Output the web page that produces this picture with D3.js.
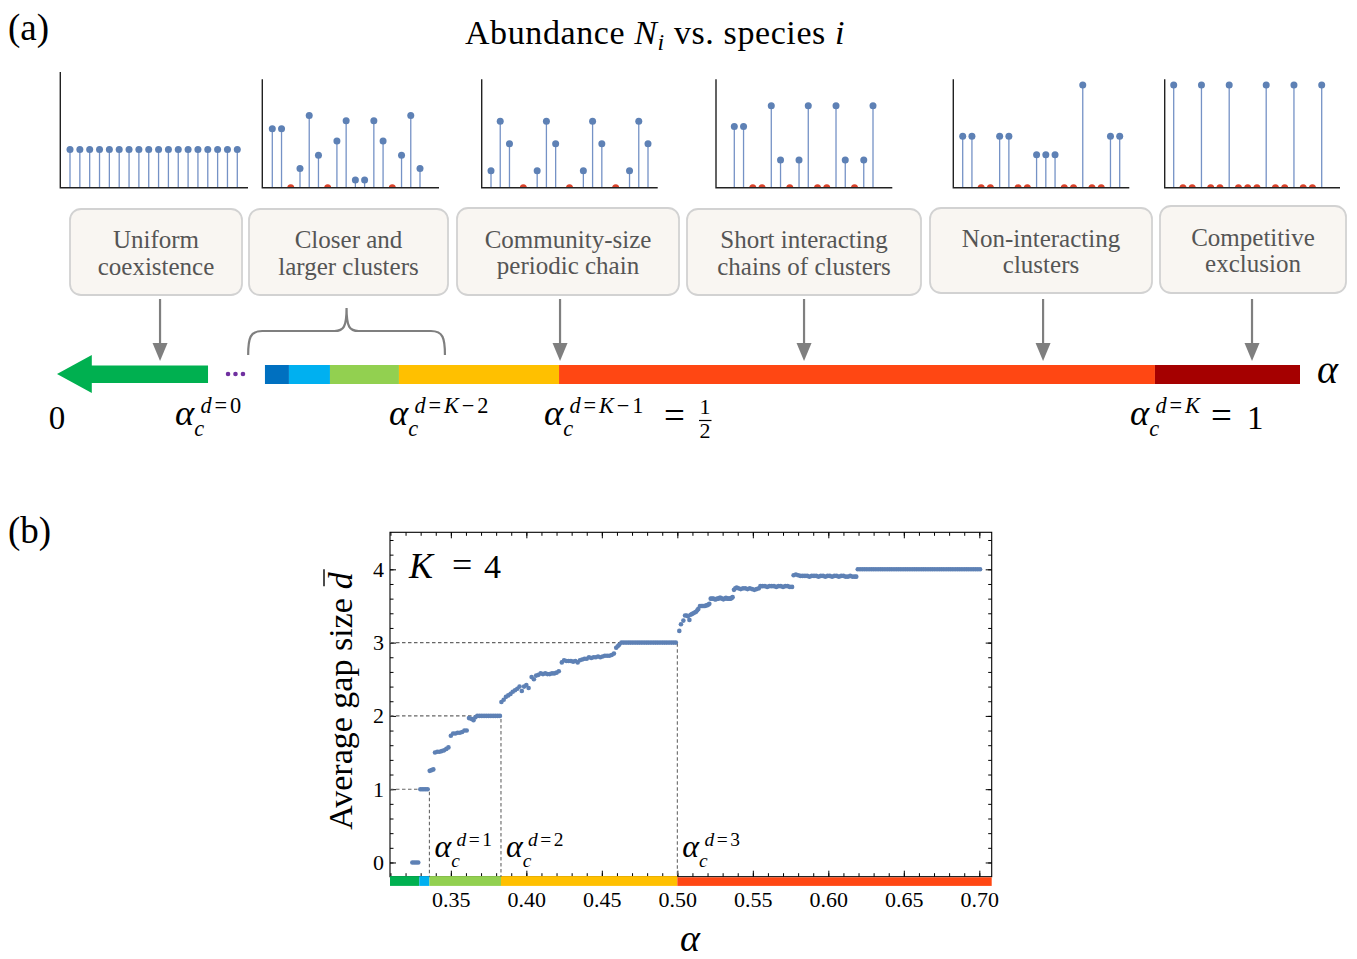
<!DOCTYPE html>
<html>
<head>
<meta charset="utf-8">
<script src="https://cdn.jsdelivr.net/npm/d3@7"></script>
<style>
  body { margin: 0; background: #fff; }
  svg { display: block; }
  text { font-family: "Liberation Serif", "Times New Roman", serif; fill: #000; }
</style>
</head>
<body>
<svg id="fig" width="1357" height="959"></svg>
<script>
// ---------------- data ----------------
// Panel (a): abundance snapshots for six regimes (species position, abundance)
const snapshotSpecies = [
  [0,1,2,3,4,5,6,7,8,9,10,11,12,13,14,15,16,17],
  [0,1,2,3,4,5,6,7,8,9,10,11,12,13,14,15,16],
  [0,1,2,3.5,5,6,7,8.5,10,11,12,13.5,15,16,17],
  [0,1,2,3,4,5,6,7,8,9,10,11,12,13,14,15],
  [0,1,2,3,4,5,6,7,8,9,10,11,12,13,14,15,16,17],
  [0,1,2,3,4,5,6,7,8,9,10,11,12,13,14,15,16]
];
const snapshotAbundance = [
  [0.373,0.373,0.373,0.373,0.373,0.373,0.373,0.373,0.373,0.373,0.373,0.373,0.373,0.373,0.373,0.373,0.373,0.373],
  [0.575,0.575,0,0.188,0.704,0.315,0,0.455,0.652,0.075,0.075,0.652,0.455,0,0.315,0.704,0.188],
  [0.166,0.646,0.428,0,0.166,0.646,0.428,0,0.166,0.646,0.428,0,0.166,0.646,0.428],
  [0.597,0.597,0,0,0.798,0.27,0,0.27,0.798,0,0,0.798,0.27,0,0.27,0.798],
  [0.5,0.5,0,0,0.5,0.5,0,0,0.321,0.321,0.321,0,0,1,0,0,0.5,0.5],
  [1,0,0,1,0,0,1,0,0,0,1,0,0,1,0,0,1]
];
const regimeLabels = [
  ["Uniform", "coexistence"],
  ["Closer and", "larger clusters"],
  ["Community-size", "periodic chain"],
  ["Short interacting", "chains of clusters"],
  ["Non-interacting", "clusters"],
  ["Competitive", "exclusion"]
];
// schematic alpha axis: phase boundaries (fraction of the axis) and colours
const phaseEdges = [0.1673, 0.1866, 0.2196, 0.2751, 0.4039, 0.8833, 1.0];
const phaseColors = ["#0070c0", "#00b0f0", "#92d050", "#ffc000", "#ff4713", "#a50000"];
const regimePointers = [0.0829, 0.4047, 0.6010, 0.7933, 0.9614];

// Panel (b): average gap size vs alpha, K = 4
const gapSamples = [
  [0.3245,0],[0.3258,0],[0.3271,0],[0.3284,0],
  [0.3298,1],[0.3310,1],[0.3322,1],[0.3334,1],[0.3346,1],
  [0.3360,1.25],[0.3372,1.26],[0.3384,1.27],
  [0.3395,1.50],[0.3410,1.51],[0.3425,1.51],[0.3440,1.52],[0.3455,1.53],[0.3470,1.55],[0.3484,1.57],
  [0.3500,1.73],[0.3515,1.76],[0.3530,1.76],[0.3545,1.77],[0.3560,1.77],[0.3575,1.78],[0.3590,1.80],[0.3605,1.80],
  [0.3620,1.97],[0.3635,1.96],[0.3650,1.94],[0.3662,1.98],
  [0.3675,2],[0.3690,2],[0.3705,2],[0.3720,2],[0.3735,2],[0.3750,2],[0.3765,2],[0.3780,2],[0.3795,2],[0.3810,2],[0.3825,2],
  [0.3835,2.19],[0.3850,2.22],[0.3865,2.26],[0.3880,2.28],[0.3895,2.30],[0.3910,2.33],[0.3925,2.35],[0.3940,2.37],
  [0.3955,2.40],[0.3970,2.34],[0.3985,2.40],[0.4000,2.42],[0.4015,2.38],
  [0.4035,2.53],[0.4050,2.50],[0.4065,2.55],[0.4080,2.56],[0.4095,2.58],[0.4110,2.57],[0.4125,2.58],[0.4140,2.57],
  [0.4155,2.57],[0.4170,2.58],[0.4185,2.58],[0.4200,2.59],[0.4215,2.61],
  [0.4235,2.73],[0.4250,2.76],[0.4265,2.75],[0.4280,2.75],[0.4295,2.75],[0.4310,2.74],[0.4325,2.75],[0.4340,2.73],
  [0.4355,2.76],[0.4370,2.77],[0.4385,2.78],[0.4400,2.78],[0.4415,2.80],[0.4430,2.79],[0.4445,2.80],[0.4460,2.80],
  [0.4475,2.81],[0.4490,2.80],[0.4505,2.81],[0.4520,2.82],[0.4535,2.82],[0.4550,2.82],[0.4565,2.83],[0.4580,2.85],
  [0.4595,2.93],[0.4605,2.95],[0.4615,2.97],
  [0.4630,3],[0.4645,3],[0.4660,3],[0.4675,3],[0.4690,3],[0.4705,3],[0.4720,3],[0.4735,3],[0.4750,3],[0.4765,3],
  [0.4780,3],[0.4795,3],[0.4810,3],[0.4825,3],[0.4840,3],[0.4855,3],[0.4870,3],[0.4885,3],[0.4900,3],[0.4915,3],
  [0.4930,3],[0.4945,3],[0.4960,3],[0.4975,3],[0.4990,3],
  [0.5013,3.16],[0.5024,3.25],[0.5040,3.30],[0.5051,3.37],[0.5062,3.37],[0.5070,3.36],[0.5080,3.31],[0.5088,3.38],
  [0.5097,3.39],[0.5106,3.40],[0.5115,3.41],[0.5124,3.42],[0.5132,3.44],[0.5139,3.46],[0.5150,3.50],[0.5160,3.50],
  [0.5168,3.50],[0.5176,3.50],[0.5183,3.50],[0.5192,3.51],[0.5199,3.51],[0.5206,3.52],[0.5212,3.53],
  [0.5221,3.60],[0.5230,3.60],[0.5239,3.60],[0.5248,3.59],[0.5256,3.59],[0.5264,3.60],[0.5272,3.60],[0.5280,3.61],
  [0.5287,3.61],[0.5296,3.60],[0.5305,3.59],[0.5314,3.60],[0.5322,3.61],[0.5330,3.60],[0.5338,3.60],[0.5346,3.60],
  [0.5353,3.60],[0.5360,3.61],[0.5366,3.62],
  [0.5375,3.72],[0.5384,3.74],[0.5393,3.75],[0.5405,3.74],[0.5420,3.73],[0.5435,3.74],[0.5450,3.74],[0.5465,3.73],
  [0.5480,3.74],[0.5495,3.73],[0.5510,3.72],[0.5525,3.73],[0.5540,3.74],
  [0.5550,3.77],[0.5565,3.77],[0.5580,3.77],[0.5595,3.76],[0.5610,3.77],[0.5625,3.77],[0.5640,3.77],[0.5655,3.76],
  [0.5670,3.77],[0.5685,3.77],[0.5700,3.76],[0.5715,3.77],[0.5730,3.77],[0.5745,3.76],[0.5760,3.76],
  [0.5770,3.92],[0.5785,3.93],[0.5800,3.92],[0.5815,3.91],[0.5830,3.91],[0.5845,3.91],[0.5860,3.91],[0.5875,3.90],
  [0.5890,3.91],[0.5905,3.91],[0.5920,3.91],[0.5935,3.90],[0.5950,3.91],[0.5965,3.91],[0.5980,3.90],[0.5995,3.91],
  [0.6010,3.91],[0.6025,3.90],[0.6040,3.91],[0.6055,3.91],[0.6070,3.90],[0.6085,3.91],[0.6100,3.91],[0.6115,3.90],
  [0.6130,3.90],[0.6145,3.91],[0.6160,3.90],[0.6175,3.90],[0.6185,3.90],
  [0.6195,4],[0.6210,4],[0.6225,4],[0.6240,4],[0.6255,4],[0.6270,4],[0.6285,4],[0.6300,4],[0.6315,4],[0.6330,4],
  [0.6345,4],[0.6360,4],[0.6375,4],[0.6390,4],[0.6405,4],[0.6420,4],[0.6435,4],[0.6450,4],[0.6465,4],[0.6480,4],
  [0.6495,4],[0.6510,4],[0.6525,4],[0.6540,4],[0.6555,4],[0.6570,4],[0.6585,4],[0.6600,4],[0.6615,4],[0.6630,4],
  [0.6645,4],[0.6660,4],[0.6675,4],[0.6690,4],[0.6705,4],[0.6720,4],[0.6735,4],[0.6750,4],[0.6765,4],[0.6780,4],
  [0.6795,4],[0.6810,4],[0.6825,4],[0.6840,4],[0.6855,4],[0.6870,4],[0.6885,4],[0.6900,4],[0.6915,4],[0.6930,4],
  [0.6945,4],[0.6960,4],[0.6975,4],[0.6990,4],[0.7005,4]
];
const criticalAlpha = [0.3358, 0.3832, 0.5];
const criticalGap = [1, 2, 3];
const bandEdges = [0.3097, 0.3291, 0.3358, 0.3832, 0.5, 0.7082];
const bandColors = ["#00b050", "#00b0f0", "#92d050", "#ffc000", "#ff4713"];
const xMajorTicks = [0.35, 0.40, 0.45, 0.50, 0.55, 0.60, 0.65, 0.70];
const yMajorTicks = [0, 1, 2, 3, 4];

// ---------------- drawing ----------------
const svg = d3.select("#fig");
const BLUE = "#5e81b5", RED = "#d9432b", GREY = "#7f7f7f";

// write math runs: [text, italic]; relations and minus get a little room on both sides
function runs(sel, parts, size) {
  let pad = false;
  parts.forEach(([t, it]) => {
    const rel = t === "=" || t === "−";
    sel.append("tspan").attr("font-style", it ? "italic" : "normal")
      .attr("dx", rel || pad ? 0.13 * size : 0).text(t);
    pad = rel;
  });
}
// alpha_c^{sup}; s is the nominal math size
function alphaC(g, x, y, s, supParts) {
  const a = g.append("text").attr("x", x).attr("y", y).attr("font-size", 1.18 * s)
    .attr("font-style", "italic").text("α");
  const w = a.node().getComputedTextLength();
  g.append("text").attr("x", x + w).attr("y", y + 0.36 * s)
    .attr("font-size", 0.72 * s).attr("font-style", "italic").text("c");
  const sup = g.append("text").attr("x", x + w + 0.2 * s).attr("y", y - 0.4 * s)
    .attr("font-size", 0.72 * s);
  runs(sup, supParts, 0.72 * s);
}

// ---- panel (a) ----
const pa = svg.append("g");
pa.append("text").attr("x", 8).attr("y", 40).attr("font-size", 37).text("(a)");
const title = pa.append("text").attr("x", 655).attr("y", 44).attr("font-size", 34)
  .attr("text-anchor", "middle").style("letter-spacing", "0.6px");
title.append("tspan").text("Abundance ");
title.append("tspan").attr("font-style", "italic").text("N");
title.append("tspan").attr("font-style", "italic").attr("font-size", 24).attr("dy", 6).text("i");
title.append("tspan").attr("dy", -6).text(" vs. species ");
title.append("tspan").attr("font-style", "italic").text("i");

// mini stem plots
const miniLayout = [
  { axisX: 60.3, top: 72, right: 248, first: 70, last: 237.3 },
  { axisX: 262.3, top: 79.3, right: 439, first: 272.3, last: 420 },
  { axisX: 481.7, top: 79.3, right: 657.7, first: 491, last: 648 },
  { axisX: 716, top: 79.3, right: 892.3, first: 734.3, last: 873 },
  { axisX: 953.3, top: 79.3, right: 1129.3, first: 962.7, last: 1119.7 },
  { axisX: 1164.7, top: 79.3, right: 1340, first: 1173.7, last: 1321.7 }
];
const baseY = 187.7;
const yAb = d3.scaleLinear().domain([0, 1]).range([baseY, 85]);
miniLayout.forEach((L, k) => {
  const sp = snapshotSpecies[k], ab = snapshotAbundance[k];
  const xs = d3.scaleLinear().domain([sp[0], sp[sp.length - 1]]).range([L.first, L.last]);
  const g = pa.append("g");
  const clipId = "clip" + k;
  g.append("clipPath").attr("id", clipId).append("rect")
    .attr("x", L.axisX - 10).attr("y", 60).attr("width", L.right - L.axisX + 20).attr("height", baseY - 60);
  const pts = sp.map((s, i) => ({ s, v: ab[i] }));
  g.selectAll("line.stem").data(pts.filter(d => d.v > 0)).join("line")
    .attr("x1", d => xs(d.s)).attr("x2", d => xs(d.s))
    .attr("y1", baseY).attr("y2", d => yAb(d.v))
    .attr("stroke", "#7592c6").attr("stroke-width", 1.3);
  g.append("g").attr("clip-path", `url(#${clipId})`)
    .selectAll("circle").data(pts).join("circle")
    .attr("cx", d => xs(d.s)).attr("cy", d => yAb(d.v)).attr("r", 3.5)
    .attr("fill", d => d.v > 0 ? BLUE : RED);
  g.append("path").attr("d", `M${L.axisX},${L.top}V${baseY}H${L.right}`)
    .attr("fill", "none").attr("stroke", "#222").attr("stroke-width", 1.4);
});

// regime boxes
const boxLayout = [[70,209,242,295],[249,209,448,295],[457,208,679,295],[687,209,921,295],[930,208,1152,293],[1160,206,1346,293]];
boxLayout.forEach(([x0, y0, x1, y1], k) => {
  pa.append("rect").attr("x", x0).attr("y", y0).attr("width", x1 - x0).attr("height", y1 - y0)
    .attr("rx", 11).attr("fill", "#f9f6f2").attr("stroke", "#d2d2d2").attr("stroke-width", 1.8);
  const cx = (x0 + x1) / 2, cy = (y0 + y1) / 2;
  regimeLabels[k].forEach((t, j) => {
    pa.append("text").attr("x", cx).attr("y", cy - 4 + j * 26.5).attr("text-anchor", "middle")
      .attr("font-size", 25).style("fill", "#555").text(t);
  });
});

// schematic alpha axis
const xs = d3.scaleLinear().domain([0, 1]).range([57, 1300]);
const barTop = 365, barBot = 384;
phaseColors.forEach((c, i) => {
  pa.append("rect").attr("x", xs(phaseEdges[i])).attr("y", barTop)
    .attr("width", xs(phaseEdges[i + 1]) - xs(phaseEdges[i])).attr("height", barBot - barTop).attr("fill", c);
});
// green arrow towards alpha -> 0
const ga = [[xs(0), 374], [xs(0.028), 355], [xs(0.028), 365.5], [xs(0.1215), 365.5],
            [xs(0.1215), 383], [xs(0.028), 383], [xs(0.028), 393]];
pa.append("path").attr("d", "M" + ga.map(p => p.join(",")).join("L") + "Z").attr("fill", "#00b050");
[0.1376, 0.1436, 0.1496].forEach(f => pa.append("circle").attr("cx", xs(f)).attr("cy", 374).attr("r", 2.3).attr("fill", "#7030a0"));
pa.append("text").attr("x", 1317).attr("y", 383).attr("font-size", 40).attr("font-style", "italic").text("α");

// pointers from regime boxes
regimePointers.forEach(f => {
  const x = xs(f);
  pa.append("line").attr("x1", x).attr("x2", x).attr("y1", 299).attr("y2", 346)
    .attr("stroke", GREY).attr("stroke-width", 2.2);
  pa.append("path").attr("d", `M${x - 7.5},343L${x + 7.5},343L${x},361Z`).attr("fill", GREY);
});
// brace over the cluster regime
const bl = xs(0.1538), br = xs(0.3121), bm = (bl + br) / 2;
pa.append("path").attr("d",
  `M${bl},355C${bl},338 ${bl + 2},331 ${bl + 14},331L${bm - 12},331C${bm - 3},331 ${bm},327 ${bm},308` +
  `C${bm},327 ${bm + 3},331 ${bm + 12},331L${br - 14},331C${br - 2},331 ${br},338 ${br},355`)
  .attr("fill", "none").attr("stroke", GREY).attr("stroke-width", 2.2);

// critical alpha labels
pa.append("text").attr("x", 57).attr("y", 429).attr("font-size", 33).attr("text-anchor", "middle").text("0");
alphaC(pa, 175, 425, 31, [["d",1],["=",0],["0",0]]);
alphaC(pa, 389, 425, 31, [["d",1],["=",0],["K",1],["−",0],["2",0]]);
alphaC(pa, 544, 425, 31, [["d",1],["=",0],["K",1],["−",0],["1",0]]);
pa.append("text").attr("x", 664).attr("y", 428).attr("font-size", 37).text("=");
pa.append("text").attr("x", 705).attr("y", 414).attr("font-size", 22).attr("text-anchor", "middle").text("1");
pa.append("line").attr("x1", 699).attr("x2", 711.5).attr("y1", 420.5).attr("y2", 420.5).attr("stroke", "#000").attr("stroke-width", 1.2);
pa.append("text").attr("x", 705).attr("y", 438).attr("font-size", 22).attr("text-anchor", "middle").text("2");
alphaC(pa, 1130, 425, 31, [["d",1],["=",0],["K",1]]);
pa.append("text").attr("x", 1211).attr("y", 428).attr("font-size", 37).text("=");
pa.append("text").attr("x", 1247).attr("y", 429).attr("font-size", 33).text("1");

// ---- panel (b) ----
const pb = svg.append("g");
pb.append("text").attr("x", 8).attr("y", 543).attr("font-size", 37).text("(b)");
const x = d3.scaleLinear().domain([0.3097, 0.7082]).range([390, 991.7]);
const y = d3.scaleLinear().domain([-0.194, 4.505]).range([876.7, 532.3]);
const [X0, X1] = x.range(), [Y0, Y1] = y.range();

// ticks on all four sides, pointing inward
const minorX = d3.range(0.31, 0.7051, 0.01), minorY = d3.range(-0.2, 4.51, 0.2).filter(v => v >= -0.19);
function tickAxes(axisFn, scale, maj, min, transform, labels, pad) {
  pb.append("g").attr("transform", transform)
    .call(axisFn(scale).tickValues(min).tickSize(-3.5).tickFormat(""));
  pb.append("g").attr("class", labels ? "lab" : "").attr("transform", transform)
    .call(axisFn(scale).tickValues(maj).tickSize(-6).tickPadding(pad)
      .tickFormat(labels ? labels : ""));
}
tickAxes(d3.axisBottom, x, xMajorTicks, minorX, `translate(0,${Y0})`, d3.format(".2f"), 15);
tickAxes(d3.axisTop, x, xMajorTicks, minorX, `translate(0,${Y1})`, null, 3);
tickAxes(d3.axisLeft, y, yMajorTicks, minorY, `translate(${X0},0)`, d3.format("d"), 6);
tickAxes(d3.axisRight, y, yMajorTicks, minorY, `translate(${X1},0)`, null, 3);
pb.selectAll(".domain").remove();
pb.selectAll(".tick line").attr("stroke", "#000").attr("stroke-width", 1);
pb.selectAll(".lab text").attr("font-size", 22).attr("font-family", "Liberation Serif").attr("fill", "#000");

// frame
pb.append("rect").attr("x", X0).attr("y", Y1).attr("width", X1 - X0).attr("height", Y0 - Y1)
  .attr("fill", "none").attr("stroke", "#000").attr("stroke-width", 1.1);

// regime colour band under the axis
bandColors.forEach((c, i) => {
  const red = i === bandColors.length - 1;
  pb.append("rect").attr("x", x(bandEdges[i])).attr("y", red ? Y0 + 0.6 : Y0 - 0.6)
    .attr("width", x(bandEdges[i + 1]) - x(bandEdges[i])).attr("height", red ? 8.6 : 9.8).attr("fill", c);
});

// dashed guides at the critical points
criticalAlpha.forEach((a, i) => {
  pb.append("path").attr("d", `M${X0},${y(criticalGap[i])}H${x(a)}V${Y0}`)
    .attr("fill", "none").attr("stroke", "#666").attr("stroke-width", 1.1).attr("stroke-dasharray", "3.5,2.5");
});

// samples
pb.append("g").selectAll("circle").data(gapSamples).join("circle")
  .attr("cx", d => x(d[0])).attr("cy", d => y(d[1])).attr("r", 2.3).attr("fill", BLUE);

// labels for the critical alphas
criticalAlpha.forEach((a, i) => {
  alphaC(pb, x(a) + 5, 857, 27, [["d",1],["=",0],[String(i + 1),0]]);
});

// K = 4
pb.append("text").attr("x", 409).attr("y", 578).attr("font-size", 36).attr("font-style", "italic").text("K");
pb.append("text").attr("x", 452).attr("y", 577).attr("font-size", 36).text("=");
pb.append("text").attr("x", 484).attr("y", 578).attr("font-size", 34).text("4");

// axis titles
pb.append("text").attr("x", 690).attr("y", 951).attr("font-size", 38).attr("font-style", "italic")
  .attr("text-anchor", "middle").text("α");
const yl = pb.append("g").attr("transform", "translate(352,701) rotate(-90)");
const t1 = yl.append("text").attr("font-size", 34).text("Average gap size");
const t2 = yl.append("text").attr("font-size", 34).attr("font-style", "italic").text("d");
const w1 = t1.node().getComputedTextLength(), w2 = t2.node().getComputedTextLength();
const gap = 9, total = w1 + gap + w2;
t1.attr("x", -total / 2);
t2.attr("x", -total / 2 + w1 + gap);
yl.append("line").attr("x1", total / 2 - w2 + 3).attr("x2", total / 2 + 3)
  .attr("y1", -28).attr("y2", -28).attr("stroke", "#000").attr("stroke-width", 1.4);
</script>
</body>
</html>
